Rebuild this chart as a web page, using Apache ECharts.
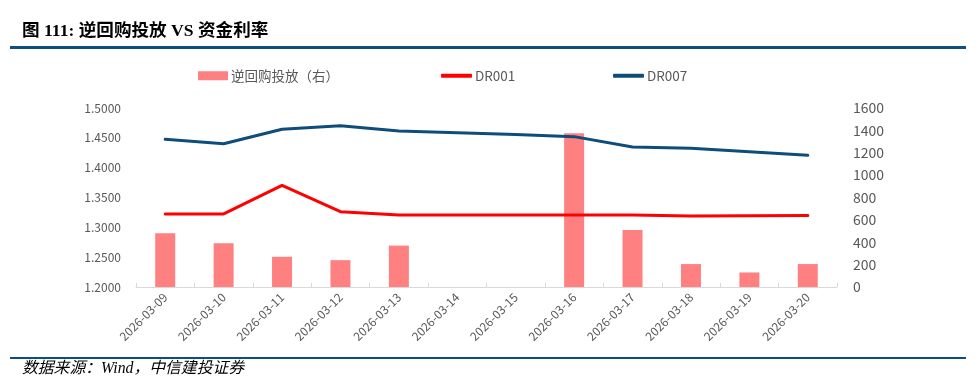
<!DOCTYPE html>
<html><head><meta charset="utf-8">
<script src="https://cdn.jsdelivr.net/npm/echarts@6/dist/echarts.min.js"></script>
<style>html,body{margin:0;padding:0;background:#fff}#c{width:978px;height:386px}</style>
</head><body><div id="c"></div>
<script>
const categories = ['2026-03-09','2026-03-10','2026-03-11','2026-03-12','2026-03-13','2026-03-14','2026-03-15','2026-03-16','2026-03-17','2026-03-18','2026-03-19','2026-03-20'];
const repoInjection = [480, 390, 270, 240, 370, null, null, 1375, 510, 205, 130, 205];
const dr001 = [1.3223, 1.3225, 1.3704, 1.3262, 1.3207, 1.3207, 1.3207, 1.3207, 1.3207, 1.3192, 1.3195, 1.3197];
const dr007 = [1.4475, 1.4402, 1.4643, 1.4703, 1.4614, 1.4585, 1.4555, 1.4520, 1.4346, 1.4324, 1.4268, 1.4207];
const leftTicks = {min: 1.2, max: 1.5, interval: 0.05};
const rightTicks = {min: 0, max: 1600, interval: 200};

const FONT = '"Noto Sans CJK SC", sans-serif';
const GREY = '#595959';
const chart = echarts.init(document.getElementById('c'), null, {renderer: 'canvas'});
const legendText = {color: GREY, fontSize: 13.5, fontFamily: FONT, padding: [0, 0, 0, -2]};
chart.setOption({
  animation: false,
  textStyle: {fontFamily: FONT},
  graphic: [
    {type: 'text', left: 22, top: 23, style: {text: '图 111: 逆回购投放 VS 资金利率', font: 'bold 17.6px "Liberation Serif", "Noto Sans CJK SC", serif', fill: '#000'}},
    {type: 'rect', shape: {x: 10, y: 46, width: 956, height: 3}, style: {fill: '#0b4f7e'}},
    {type: 'rect', shape: {x: 10, y: 357, width: 956, height: 2}, style: {fill: '#0b4f7e'}},
    {type: 'text', left: 22, top: 361, style: {text: '数据来源：Wind，中信建投证券', font: 'italic 15.8px "Liberation Serif", "Noto Sans CJK SC", serif', fill: '#000'}}
  ],
  legend: [
    {data: ['逆回购投放（右）'], left: 198, top: 69, padding: 0, icon: 'rect', itemWidth: 30, itemHeight: 9, textStyle: legendText},
    {data: ['DR001'], left: 441, top: 69, padding: 0, icon: 'roundRect', itemWidth: 31, itemHeight: 4, textStyle: legendText},
    {data: ['DR007'], left: 613, top: 69, padding: 0, icon: 'roundRect', itemWidth: 31, itemHeight: 4, textStyle: legendText}
  ],
  grid: {left: 136, right: 141, top: 108, bottom: 99, containLabel: false},
  xAxis: {
    type: 'category', data: categories, boundaryGap: true,
    axisLine: {lineStyle: {color: '#d9d9d9', width: 1}},
    axisTick: {show: true, inside: true, length: 4, lineStyle: {color: '#d9d9d9'}},
    axisLabel: {rotate: 45, color: GREY, fontSize: 12, fontFamily: FONT, margin: 8, interval: 0}
  },
  yAxis: [
    {type: 'value', min: leftTicks.min, max: leftTicks.max, interval: leftTicks.interval,
     axisLine: {show: false}, axisTick: {show: false}, splitLine: {show: false},
     axisLabel: {color: GREY, fontSize: 12, fontFamily: FONT, margin: 15, formatter: v => v.toFixed(4)}},
    {type: 'value', min: rightTicks.min, max: rightTicks.max, interval: rightTicks.interval, position: 'right',
     axisLine: {show: false}, axisTick: {show: false}, splitLine: {show: false},
     axisLabel: {color: GREY, fontSize: 14, fontFamily: FONT, margin: 16, formatter: v => String(v)}}
  ],
  series: [
    {name: '逆回购投放（右）', type: 'bar', yAxisIndex: 1, data: repoInjection, barWidth: 20, itemStyle: {color: '#ff8080'}},
    {name: 'DR001', type: 'line', yAxisIndex: 0, data: dr001, symbol: 'none', lineStyle: {color: '#ff0000', width: 3, cap: 'round'}, itemStyle: {color: '#ff0000'}},
    {name: 'DR007', type: 'line', yAxisIndex: 0, data: dr007, symbol: 'none', lineStyle: {color: '#0e4d7b', width: 3, cap: 'round'}, itemStyle: {color: '#0e4d7b'}}
  ]
});
</script></body></html>
